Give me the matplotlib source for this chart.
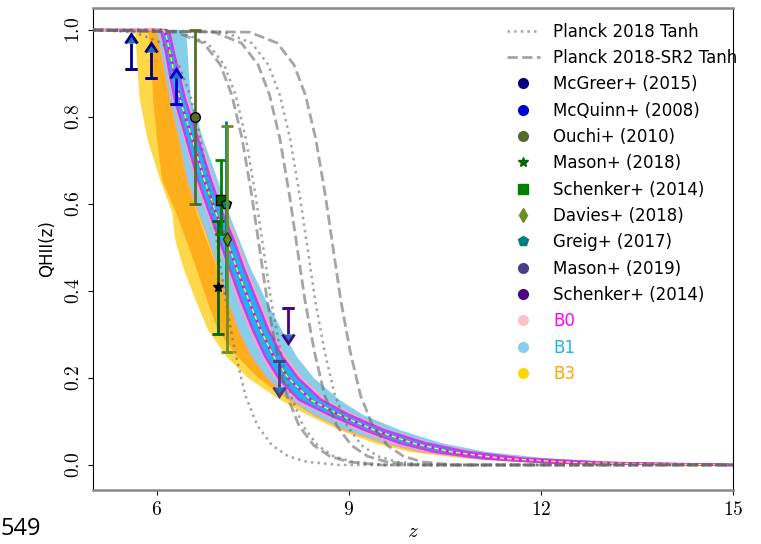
import numpy as np
import matplotlib.pyplot as plt
from matplotlib.lines import Line2D

plt.rcParams['mathtext.fontset'] = 'cm'

# ---- model bands: z position of each edge at fixed QHII levels ----
levels = [1.0, 1.0, 0.99, 0.95, 0.9, 0.84, 0.75, 0.655, 0.58, 0.52, 0.45, 0.38,
          0.31, 0.25, 0.2, 0.15, 0.115, 0.08, 0.05, 0.03, 0.015, 0.005, 0.0]

b0_mid = [5.0, 6.1, 6.14, 6.2, 6.27, 6.36, 6.55, 6.74, 6.92, 7.08, 7.25, 7.43,
          7.62, 7.82, 8.05, 8.4, 8.85, 9.4, 10.0, 10.6, 11.4, 12.6, 15.0]
b0_in_lo = [5.0, 6.05, 6.08, 6.14, 6.2, 6.28, 6.46, 6.64, 6.82, 6.97, 7.14, 7.31,
            7.5, 7.69, 7.9, 8.22, 8.7, 9.25, 9.8, 10.35, 11.1, 12.2, 15.0]
b0_in_hi = [5.0, 6.15, 6.2, 6.26, 6.34, 6.44, 6.64, 6.84, 7.02, 7.19, 7.36, 7.55,
            7.74, 7.95, 8.2, 8.56, 9.0, 9.55, 10.2, 10.85, 11.7, 13.0, 15.0]
b0_lo = [5.0, 6.02, 6.05, 6.11, 6.17, 6.24, 6.42, 6.59, 6.77, 6.92, 7.09, 7.25,
         7.44, 7.63, 7.83, 8.13, 8.6, 9.12, 9.65, 10.2, 10.9, 12.0, 15.0]
b0_hi = [5.0, 6.18, 6.23, 6.29, 6.37, 6.48, 6.68, 6.89, 7.07, 7.25, 7.42, 7.61,
         7.8, 8.02, 8.28, 8.65, 9.1, 9.65, 10.3, 11.0, 11.9, 13.2, 15.0]
b1_lo = [5.0, 5.95, 6.0, 6.06, 6.12, 6.2, 6.34, 6.47, 6.65, 6.8, 6.96, 7.1,
         7.27, 7.47, 7.72, 8.08, 8.45, 8.95, 9.55, 10.15, 11.0, 12.1, 15.0]
b1_hi = [5.0, 6.42, 6.46, 6.48, 6.5, 6.53, 6.72, 6.95, 7.12, 7.28, 7.47, 7.7,
         7.95, 8.18, 8.45, 8.85, 9.22, 9.8, 10.45, 11.15, 12.1, 13.5, 15.0]
b3_in_lo = [5.0, 5.84, 5.87, 5.9, 5.92, 5.94, 6.0, 6.08, 6.3, 6.45, 6.62, 6.78,
            6.95, 7.25, 7.58, 8.05, 8.45, 8.95, 9.55, 10.1, 10.95, 12.0, 15.0]
b3_in_hi = [5.0, 5.98, 6.02, 6.08, 6.14, 6.2, 6.33, 6.47, 6.62, 6.77, 6.94, 7.1,
            7.28, 7.52, 7.82, 8.25, 8.65, 9.15, 9.75, 10.35, 11.2, 12.3, 15.0]
b3_lo = [5.0, 5.62, 5.66, 5.68, 5.7, 5.73, 5.85, 6.05, 6.24, 6.28, 6.42, 6.6,
         6.8, 7.08, 7.42, 7.92, 8.35, 8.85, 9.4, 9.95, 10.8, 11.9, 15.0]

# ---- Planck tanh curves ----
tanh_q = [1.0, 0.995, 0.97, 0.92, 0.85, 0.75, 0.62, 0.5, 0.38, 0.26, 0.16, 0.09,
          0.045, 0.02, 0.007, 0.0, 0.0]
planck_dotted = [
    [5.0, 5.65, 6.08, 6.34, 6.52, 6.68, 6.83, 6.95, 7.07, 7.22, 7.38, 7.57, 7.80, 8.05, 8.35, 8.85, 15.0],
    [5.0, 6.36, 6.79, 7.05, 7.23, 7.39, 7.54, 7.66, 7.78, 7.93, 8.09, 8.28, 8.51, 8.76, 9.06, 9.56, 15.0],
    [5.0, 7.05, 7.48, 7.74, 7.92, 8.08, 8.23, 8.35, 8.47, 8.62, 8.78, 8.97, 9.20, 9.45, 9.75, 10.25, 15.0],
]
planck_sr2_dashed = [
    [5.0, 6.30, 6.73, 6.99, 7.17, 7.33, 7.48, 7.60, 7.72, 7.87, 8.03, 8.22, 8.45, 8.70, 9.00, 9.50, 15.0],
    [5.0, 6.89, 7.32, 7.58, 7.76, 7.92, 8.07, 8.19, 8.31, 8.46, 8.62, 8.81, 9.04, 9.29, 9.59, 10.09, 15.0],
    [5.0, 7.45, 7.88, 8.14, 8.32, 8.48, 8.63, 8.75, 8.87, 9.02, 9.18, 9.37, 9.60, 9.85, 10.15, 10.65, 15.0],
]

# ---- observations ----
mcgreer_z, mcgreer_q = [5.6, 5.9], [0.91, 0.89]
mcquinn_z, mcquinn_q = [6.3], [0.83]
ouchi_z, ouchi_q, ouchi_err = [6.6], [0.80], [0.2]
mason18_z, mason18_q, mason18_lo, mason18_up = [6.95], [0.41], [0.11], [0.15]
schenker_z, schenker_q, schenker_lo, schenker_up = [7.0], [0.61], [0.08], [0.09]
davies_z, davies_q, davies_err = [7.09], [0.52], [0.26]
greig_z, greig_q, greig_lo, greig_up = [7.08], [0.60], [0.21], [0.19]
mason19_z, mason19_q = [7.9], [0.24]
schenker_ul_z, schenker_ul_q = [8.05], [0.36]
arrow_len = 0.06

fig = plt.figure(figsize=(7.61, 5.44), dpi=100)
ax = fig.add_axes([0.1222, 0.0993, 0.841, 0.886])

L = np.array(levels)


def band(lo, hi, color, z):
    ax.fill(np.concatenate([lo, hi[::-1]]), np.concatenate([L, L[::-1]]),
            color=color, lw=0, zorder=z)


band(b3_lo, b1_lo, '#FFD84A', 1)
band(b3_in_lo, b3_in_hi, '#FDAE1A', 2)
band(b1_lo, b1_hi, '#87CEEB', 3)
band(b0_lo, b0_hi, '#F4A6C8', 4)
band(b0_in_lo, b0_in_hi, '#1FB0F5', 5)
ax.plot(b1_lo, L, color='#F4A582', lw=1, zorder=5)
ax.plot(b0_in_lo, L, color='#C040F5', lw=1.8, zorder=6)
ax.plot(b0_in_hi, L, color='#C040F5', lw=1.8, zorder=6)
ax.plot(b0_mid, L, color='yellow', lw=0.9, zorder=6)
ax.plot(b0_mid, L, color='magenta', lw=2, ls=':', zorder=6)

for zz in planck_dotted:
    ax.plot(zz, tanh_q, color='dimgray', alpha=0.6, lw=1.8, ls=':', zorder=7)
for zz in planck_sr2_dashed:
    ax.plot(zz, tanh_q, color='dimgray', alpha=0.6, lw=2, ls='--', zorder=7)


def limit(z, q, color, up):
    n = len(z)
    if up:
        ax.errorbar(z, q, yerr=[[0] * n, [arrow_len] * n], lolims=True, fmt='none',
                    ecolor=color, elinewidth=2, capsize=4.5, capthick=2, zorder=9)
    else:
        ax.errorbar(z, q, yerr=[[arrow_len] * n, [0] * n], uplims=True, fmt='none',
                    ecolor=color, elinewidth=2, capsize=4.5, capthick=2, zorder=9)
    ax.plot(z, q, ls='none', marker='_', ms=9, mew=2, color=color, zorder=9)


limit(mcgreer_z, mcgreer_q, 'navy', True)
limit(mcquinn_z, mcquinn_q, 'mediumblue', True)
limit(mason19_z, mason19_q, 'darkslateblue', False)
limit(schenker_ul_z, schenker_ul_q, 'indigo', False)

ax.errorbar(ouchi_z, ouchi_q, yerr=ouchi_err, fmt='o', color='darkolivegreen',
            mec='black', ms=7, elinewidth=2, capsize=4, capthick=2, zorder=10)
ax.errorbar(mason18_z, mason18_q, yerr=[mason18_lo, mason18_up], fmt='*', color='darkgreen',
            mfc='black', mec='black', ms=7, elinewidth=2, capsize=4, capthick=2, zorder=10)
ax.errorbar(schenker_z, schenker_q, yerr=[schenker_lo, schenker_up], fmt='s', color='green',
            mfc='darkgreen', mec='black', ms=7, elinewidth=2, capsize=4, capthick=2, zorder=10)
ax.errorbar(greig_z, greig_q, yerr=[greig_lo, greig_up], fmt='p', color='teal',
            mec='black', ms=7, elinewidth=2, capsize=0, zorder=10)
ax.errorbar(davies_z, davies_q, yerr=davies_err, fmt='d', color='olivedrab',
            mec='#333300', ms=7, elinewidth=2, capsize=4, capthick=2, zorder=11)

ax.set_xlim(5, 15)
ax.set_ylim(-0.0575, 1.0506)
ax.set_xticks([6, 9, 12, 15])
ax.set_yticks([0.0, 0.2, 0.4, 0.6, 0.8, 1.0])
ax.set_xticklabels([f'${v}$' for v in [6, 9, 12, 15]], fontsize=14)
ax.set_yticklabels([f'${v:.1f}$' for v in [0.0, 0.2, 0.4, 0.6, 0.8, 1.0]],
                   fontsize=14, rotation=90, va='center')
ax.set_xlabel('$z$', fontsize=15, labelpad=2)
ax.set_ylabel('QHII(z)', fontsize=12, labelpad=6)
for side in ['top', 'bottom']:
    ax.spines[side].set_color('#888888')
    ax.spines[side].set_linewidth(1.8)

handles = [
    Line2D([], [], color='dimgray', alpha=0.6, lw=1.8, ls=':'),
    Line2D([], [], color='dimgray', alpha=0.6, lw=2, ls='--'),
]
marks = [('o', 'navy'), ('o', 'mediumblue'), ('o', 'darkolivegreen'), ('*', 'darkgreen'),
         ('s', 'green'), ('d', 'olivedrab'), ('p', 'teal'), ('o', 'darkslateblue'),
         ('o', 'indigo'), ('o', 'pink'), ('o', 'skyblue'), ('o', 'gold')]
for m, c in marks:
    handles.append(Line2D([], [], ls='none', marker=m, color=c, ms=7))
labels = ['Planck 2018 Tanh', 'Planck 2018-SR2 Tanh', 'McGreer+ (2015)', 'McQuinn+ (2008)',
          'Ouchi+ (2010)', 'Mason+ (2018)', 'Schenker+ (2014)', 'Davies+ (2018)',
          'Greig+ (2017)', 'Mason+ (2019)', 'Schenker+ (2014)', 'B0', 'B1', 'B3']
leg = fig.legend(handles, labels, loc='upper left', bbox_to_anchor=(0.646, 0.986),
                 frameon=False, fontsize=12, labelspacing=0.5, handlelength=2.0)
for txt, col in zip(leg.get_texts()[-3:], ['magenta', '#1EB4F0', 'orange']):
    txt.set_color(col)

fig.text(0.0, 0.005, '549', fontsize=17, family='Open Sans', ha='left', va='bottom')

fig.savefig('out.png', dpi=100)
